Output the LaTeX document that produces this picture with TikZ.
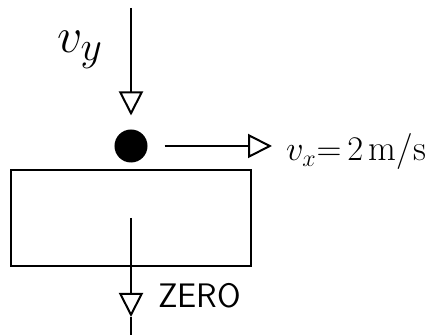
\documentclass[tikz,border=0pt]{standalone}
\usepackage{amsmath}
\usepackage{tikz}
\usetikzlibrary{arrows.meta,positioning}

\begin{document}
\begin{tikzpicture}[x=0.5pt,y=-0.5pt,>={Triangle[open,length=12pt,width=12pt]},line width=1pt]

\tikzset{
ball/.style={
    circle,
    fill=black,
    draw=black,
    inner sep=0pt,
    minimum size=15.5pt
},
block/.style={
    draw,
    line width=1.2pt,
    minimum width=120pt,
    minimum height=48pt,
    inner sep=0pt
},
lab/.style={inner sep=0pt,font=\fontsize{18}{21}\selectfont},
a/.style={->,line width=1pt}
}

\useasboundingbox (0,0) rectangle (433,335);

\node[ball] (ball) at (131,146) {};
\node[block] (box) at (131,218) {};
\coordinate (top) at (131,8);
\coordinate (tip) at (131,317);
\coordinate (bottom) at (131,335);

\node[lab,font=\fontsize{32}{36}\selectfont] (vy) at (80,50) {$v_y$};
\node[lab,anchor=west] (vx) at (285,152) {$v_x{=}\,2\,$m/s};
\node[font=\sffamily\fontsize{17}{20}\selectfont,anchor=west,inner sep=0pt] (zero) at (157,296) {ZERO};

\draw[a,shorten >=7pt] (top) -- (ball.north);
\draw[a,shorten <=8.5pt,shorten >=6.5pt] (ball.east) -- (ball.east -| vx.west);
\draw[a] (box.center) -- (tip);
\draw (tip) -- (bottom);

\end{tikzpicture}
\end{document}
